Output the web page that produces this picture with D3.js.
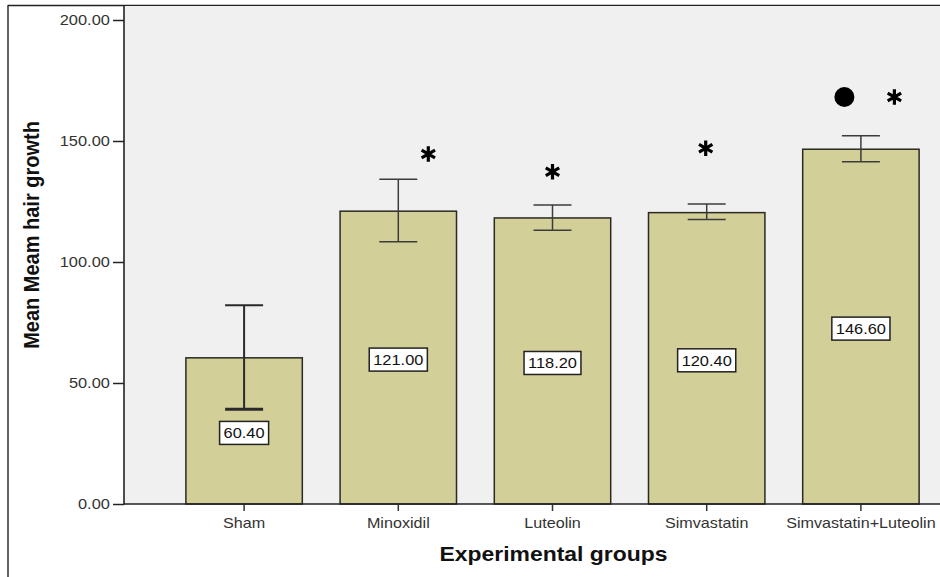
<!DOCTYPE html>
<html>
<head>
<meta charset="utf-8">
<script src="https://cdn.jsdelivr.net/npm/d3@7"></script>
<style>
  html, body { margin: 0; padding: 0; background: #ffffff; }
  svg { display: block; }
</style>
</head>
<body>
<svg id="chart" width="940" height="577"></svg>
<script>
// ---- data ----
const categories = ["Sham", "Minoxidil", "Luteolin", "Simvastatin", "Simvastatin+Luteolin"];
const means      = [60.40, 121.00, 118.20, 120.40, 146.60];
const errLow     = [39.2, 108.4, 113.1, 117.6, 141.4];
const errHigh    = [82.1, 134.2, 123.6, 124.0, 152.2];
const yTicks     = [0, 50, 100, 150, 200];
const markerCats   = ["Minoxidil", "Luteolin", "Simvastatin", "Simvastatin+Luteolin", "Simvastatin+Luteolin"];
const markerTypes  = ["asterisk", "asterisk", "asterisk", "dot", "asterisk"];
const markerValues = [144.6, 137.3, 147.0, 168.2, 168.2];
const yTitle = "Mean Meam hair growth";
const xTitle = "Experimental groups";

// ---- layout ----
const SX = 1.13; // horizontal stretch of the original text
const plotLeft = 124, plotTop = 6, plotRight = 981, plotBottom = 504;
const svg = d3.select("#chart");
const FONT = "'Liberation Sans', Arial, sans-serif";

const x = d3.scaleBand().domain(categories).range([167, 938]).paddingInner(0.245).paddingOuter(0.1225);
const y = d3.scaleLinear().domain([0, 200]).range([504, 20]);

// outer frame
svg.append("line").attr("x1", 8).attr("x2", 8).attr("y1", 5).attr("y2", 577)
  .attr("stroke", "#222").attr("stroke-width", 1.4);
svg.append("line").attr("x1", 8).attr("x2", 940).attr("y1", 5.5).attr("y2", 5.5)
  .attr("stroke", "#222").attr("stroke-width", 1.4);

// plot background
svg.append("rect").attr("x", plotLeft).attr("y", plotTop)
  .attr("width", plotRight - plotLeft).attr("height", plotBottom - plotTop)
  .attr("fill", "#f0f0f0");

// bars
const data = categories.map((c, i) => ({ c, m: means[i], lo: errLow[i], hi: errHigh[i] }));
svg.append("g").selectAll("rect").data(data).join("rect")
  .attr("x", d => x(d.c)).attr("y", d => y(d.m))
  .attr("width", x.bandwidth()).attr("height", d => y(0) - y(d.m))
  .attr("fill", "#d3cf98").attr("stroke", "#2a2a22").attr("stroke-width", 1.5);

// error bars
const capW = 38;
const eg = svg.append("g").selectAll("g").data(data).join("g")
  .attr("stroke", (d, i) => i === 0 ? "#2a2a2a" : "#3c3c3c")
  .attr("stroke-width", (d, i) => i === 0 ? 2 : 1.5);
eg.append("line").attr("x1", d => x(d.c) + x.bandwidth() / 2).attr("x2", d => x(d.c) + x.bandwidth() / 2)
  .attr("y1", d => y(d.hi)).attr("y2", d => y(d.lo));
eg.append("line").attr("x1", d => x(d.c) + x.bandwidth() / 2 - capW / 2).attr("x2", d => x(d.c) + x.bandwidth() / 2 + capW / 2)
  .attr("y1", d => y(d.hi)).attr("y2", d => y(d.hi));
eg.append("line").attr("x1", d => x(d.c) + x.bandwidth() / 2 - capW / 2).attr("x2", d => x(d.c) + x.bandwidth() / 2 + capW / 2)
  .attr("y1", d => y(d.lo)).attr("y2", d => y(d.lo))
  .attr("stroke-width", (d, i) => i === 0 ? 3 : 1.5);

// value labels
const lg = svg.append("g").selectAll("g").data(data).join("g")
  .attr("transform", d => `translate(${x(d.c) + x.bandwidth() / 2},${y(d.m / 2) + 2})`);
const lbox = lg.append("rect").attr("fill", "#ffffff").attr("stroke", "#222").attr("stroke-width", 1.5);
const ltxt = lg.append("text").text(d => d3.format(".2f")(d.m))
  .attr("font-family", FONT).attr("font-size", 14.5).attr("fill", "#111")
  .attr("text-anchor", "middle").attr("dy", "0.36em")
  .attr("transform", `scale(${SX},1)`);
ltxt.each(function (d, i) {
  const w = this.getComputedTextLength() * SX + 8;
  d3.select(lbox.nodes()[i]).attr("x", -w / 2).attr("y", -11.5).attr("width", w).attr("height", 23);
});

// significance markers
const markerDx = { "Minoxidil|asterisk": 30, "Luteolin|asterisk": 0, "Simvastatin|asterisk": -1,
                   "Simvastatin+Luteolin|dot": -16.5, "Simvastatin+Luteolin|asterisk": 33.5 };
const mg = svg.append("g");
markerCats.forEach((c, i) => {
  const t = markerTypes[i];
  const cx = x(c) + x.bandwidth() / 2 + markerDx[c + "|" + t];
  const cy = y(markerValues[i]);
  if (t === "dot") {
    mg.append("circle").attr("cx", cx).attr("cy", cy).attr("r", 10).attr("fill", "#000");
  } else {
    mg.append("path").attr("d", d3.symbol(d3.symbolAsterisk, 170)())
      .attr("transform", `translate(${cx},${cy})`)
      .attr("fill", "none").attr("stroke", "#000").attr("stroke-width", 3.2);
  }
});

// y axis
const yg = svg.append("g").attr("transform", `translate(${plotLeft},0)`)
  .call(d3.axisLeft(y).tickValues(yTicks).tickFormat(d3.format(".2f")).tickSize(11).tickSizeOuter(0).tickPadding(1.5));
yg.select(".domain").remove();
yg.selectAll(".tick line").attr("stroke", "#222").attr("stroke-width", 1.5);
yg.selectAll(".tick text").attr("font-family", FONT).attr("font-size", 14.5).attr("fill", "#333")
  .attr("transform", `scale(${SX},1)`);
svg.append("line").attr("x1", plotLeft).attr("x2", plotLeft).attr("y1", plotTop).attr("y2", plotBottom + 0.5)
  .attr("stroke", "#222").attr("stroke-width", 1.6);

// x axis
const xg = svg.append("g").attr("transform", `translate(0,${plotBottom})`)
  .call(d3.axisBottom(x).tickSize(7).tickSizeOuter(0).tickPadding(6.7));
xg.select(".domain").remove();
xg.selectAll(".tick line").attr("stroke", "#333").attr("stroke-width", 1.5);
xg.selectAll(".tick text").attr("font-family", FONT).attr("font-size", 14.3).attr("fill", "#333")
  .attr("transform", `scale(${SX},1)`);
svg.append("line").attr("x1", plotLeft).attr("x2", 940).attr("y1", plotBottom).attr("y2", plotBottom)
  .attr("stroke", "#222").attr("stroke-width", 1.6);

// titles
svg.append("text").text(xTitle)
  .attr("font-family", FONT).attr("font-weight", "bold").attr("font-size", 20.3).attr("fill", "#111")
  .attr("text-anchor", "middle")
  .attr("transform", `translate(${(x.range()[0] + x.range()[1]) / 2 + 1},560.5) scale(${SX},1)`);
svg.append("text").text(yTitle)
  .attr("font-family", FONT).attr("font-weight", "bold").attr("font-size", 20).attr("fill", "#111")
  .attr("text-anchor", "middle")
  .attr("transform", `translate(39,235) rotate(-90) scale(1,${SX})`);
</script>
</body>
</html>
